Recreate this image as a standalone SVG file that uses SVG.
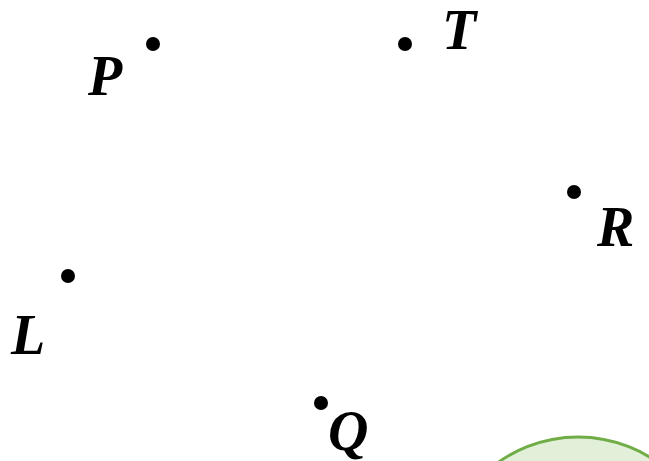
<svg xmlns="http://www.w3.org/2000/svg" width="649" height="461" viewBox="0 0 649 461">
<style>
.dot{fill:#000}
.lbl{font-family:"Liberation Serif","Times New Roman",serif;font-weight:bold;font-style:italic;font-size:56px;fill:#000}
</style>
<rect width="649" height="461" fill="#fff"/>
<circle cx="578" cy="575" r="138" fill="#e2efd9" stroke="#70ad47" stroke-width="3"/>
<g id="P"><circle class="dot" cx="153" cy="44" r="7"/><text class="lbl" x="88" y="95">P</text></g>
<g id="T"><circle class="dot" cx="405" cy="44" r="7"/><text class="lbl" x="442" y="49">T</text></g>
<g id="R"><circle class="dot" cx="574" cy="192" r="7"/><text class="lbl" x="597" y="246">R</text></g>
<g id="L"><circle class="dot" cx="68" cy="276" r="7"/><text class="lbl" x="11" y="354">L</text></g>
<g id="Q"><circle class="dot" cx="321" cy="403" r="7"/><text class="lbl" x="328" y="450">Q</text></g>
<g id="connectors"/>
</svg>
